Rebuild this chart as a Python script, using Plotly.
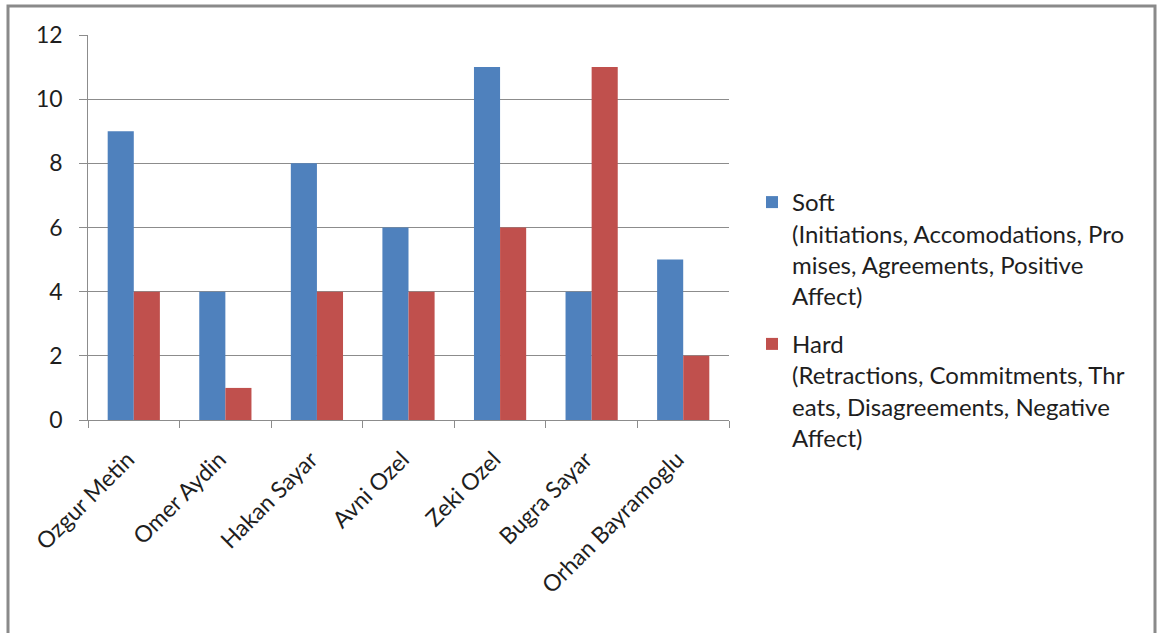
import plotly.graph_objects as go

categories = ["Ozgur Metin", "Omer Aydin", "Hakan Sayar", "Avni Ozel",
              "Zeki Ozel", "Bugra Sayar", "Orhan Bayramoglu"]
soft_values = [9, 4, 8, 6, 11, 4, 5]
hard_values = [4, 1, 4, 4, 6, 11, 2]
soft_name = "Soft<br>(Initiations, Accomodations, Pro<br>mises, Agreements, Positive<br>Affect)"
hard_name = "Hard<br>(Retractions, Commitments, Thr<br>eats, Disagreements, Negative<br>Affect)"

FONT = "Lato"
GRID = "#8c8c8c"

fig = go.Figure()
fig.add_trace(go.Bar(x=categories, y=soft_values, name=soft_name, legendgroup="soft",
                     marker=dict(color="#4F81BD", line=dict(width=0))))
fig.add_trace(go.Bar(x=categories, y=hard_values, name=hard_name, legendgroup="hard",
                     marker=dict(color="#C0504D", line=dict(width=0))))

W, H = 1160, 633
ml, mr, mt, mb = 88, 431, 35, 213
pw = W - ml - mr
ph = H - mt - mb

def px2x(p):
    return (p - ml) / pw

def py2y(p):
    return (H - mb - p) / ph

fig.update_layout(
    width=W, height=H,
    margin=dict(l=ml, r=mr, t=mt, b=mb, pad=0),
    paper_bgcolor="#ffffff", plot_bgcolor="#ffffff",
    barmode="group", bargap=0.43, bargroupgap=0,
    font=dict(family=FONT, size=22, color="#1e1e1e"),
    showlegend=True,
    legend=dict(x=px2x(752), y=py2y(180), xanchor="left", yanchor="top",
                font=dict(family=FONT, size=24, color="#1e1e1e"),
                traceorder="grouped", tracegroupgap=14, valign="top",
                itemwidth=30, bgcolor="rgba(0,0,0,0)"),
    xaxis=dict(type="category", tickangle=-45, tickson="boundaries",
               ticks="outside", ticklen=7, tickcolor=GRID,
               showline=True, linecolor=GRID, linewidth=1,
               showgrid=False, tickfont=dict(size=23),
               ticklabelstandoff=16, ticklabelshift=-6),
    yaxis=dict(range=[0, 12], dtick=2, ticks="outside", ticklen=8,
               tickcolor=GRID, showline=True, linecolor=GRID, linewidth=1,
               showgrid=True, gridcolor=GRID, gridwidth=1, zeroline=False,
               tickfont=dict(size=23), ticksuffix="  "),
    shapes=[dict(type="rect", xref="paper", yref="paper",
                 x0=px2x(8), x1=px2x(1155), y0=py2y(660), y1=py2y(6),
                 line=dict(color="#8a8a8a", width=3), fillcolor="rgba(0,0,0,0)",
                 layer="below")],
)

fig.write_html("out.html")
